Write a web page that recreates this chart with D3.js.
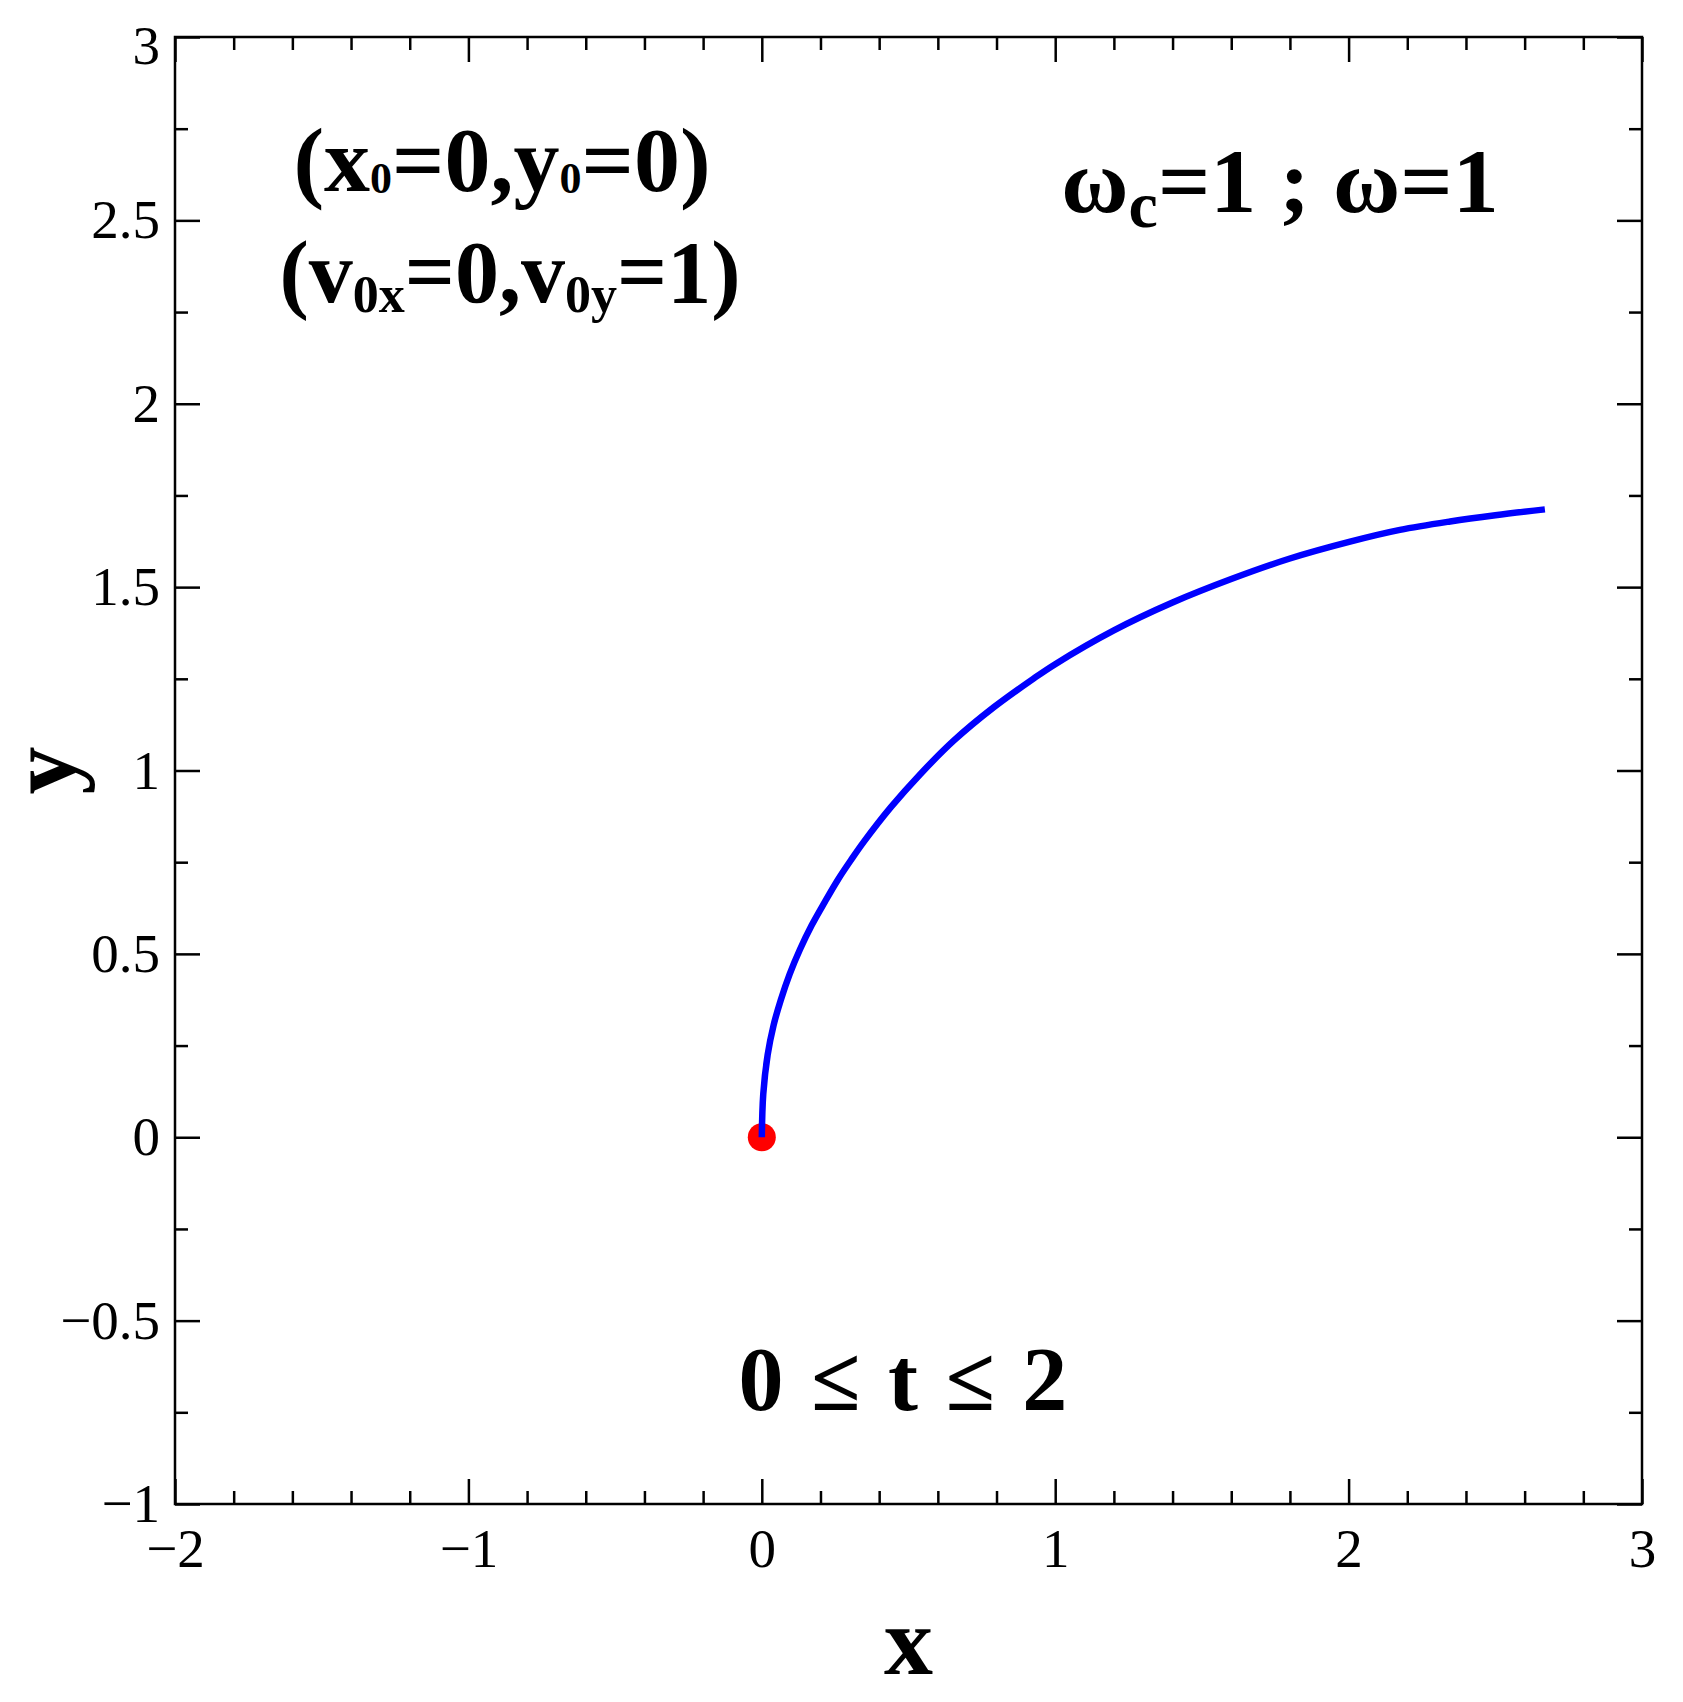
<!DOCTYPE html>
<html>
<head>
<meta charset="utf-8">
<script src="https://cdn.jsdelivr.net/npm/d3@7"></script>
<style>
  body { margin: 0; background: #fff; }
  svg text { font-family: "Liberation Serif", "Times New Roman", serif; }
</style>
</head>
<body>
<svg id="chart" width="1683" height="1702"></svg>
<script>
// Tick values for the axes
var xTicks = [-2, -1, 0, 1, 2, 3];
var yTicks = [-1, -0.5, 0, 0.5, 1, 1.5, 2, 2.5, 3];
var xMinor = [-1.8, -1.6, -1.4, -1.2, -0.8, -0.6, -0.4, -0.2, 0.2, 0.4, 0.6, 0.8,
              1.2, 1.4, 1.6, 1.8, 2.2, 2.4, 2.6, 2.8];
var yMinor = [-0.75, -0.25, 0.25, 0.75, 1.25, 1.75, 2.25, 2.75];

// Trajectory, 0 <= t <= 2
var trajX = [0, 0.005, 0.020, 0.040, 0.065, 0.095, 0.130, 0.170, 0.215, 0.260, 0.305,
             0.350, 0.440, 0.540, 0.655, 0.790, 0.925, 1.0, 1.2, 1.4, 1.6, 1.8,
             2.005, 2.175, 2.346, 2.5, 2.669];
var trajY = [0, 0.118, 0.225, 0.305, 0.375, 0.445, 0.512, 0.578, 0.642, 0.703, 0.757,
             0.808, 0.900, 0.990, 1.082, 1.172, 1.250, 1.290, 1.382, 1.458, 1.522, 1.578,
             1.624, 1.656, 1.679, 1.696, 1.712];
var startPoint = [0, 0];

// plot box in pixels
var plotL = 175, plotT = 37, plotR = 1642, plotB = 1504;

var svg = d3.select("#chart");

var x = d3.scaleLinear().domain([-2, 3]).range([plotL, plotR]);
var y = d3.scaleLinear().domain([-1, 3]).range([plotB, plotT]);

var fmt = d3.format("");

function styleAxis(g, size) {
    g.select(".domain").remove();
    g.selectAll("line").attr("stroke", "#000").attr("stroke-width", 2.5);
    g.selectAll("text").attr("font-size", size).attr("fill", "#000");
}

// bottom axis with labels
svg.append("g")
    .attr("transform", "translate(0," + plotB + ")")
    .call(d3.axisBottom(x).tickValues(xTicks).tickSizeInner(-25).tickSizeOuter(0)
        .tickPadding(24).tickFormat(fmt))
    .call(styleAxis, 55);
svg.append("g")
    .attr("transform", "translate(0," + plotB + ")")
    .call(d3.axisBottom(x).tickValues(xMinor).tickSizeInner(-13).tickSizeOuter(0).tickFormat(""))
    .call(styleAxis, 0);

// left axis with labels
svg.append("g")
    .attr("transform", "translate(" + plotL + ",0)")
    .call(d3.axisLeft(y).tickValues(yTicks).tickSizeInner(-25).tickSizeOuter(0)
        .tickPadding(15).tickFormat(fmt))
    .call(styleAxis, 55)
    .selectAll(".tick text")
    .attr("y", function(d) { return d === 3 ? 9 : 0; }); // top label sits a bit lower
svg.append("g")
    .attr("transform", "translate(" + plotL + ",0)")
    .call(d3.axisLeft(y).tickValues(yMinor).tickSizeInner(-13).tickSizeOuter(0).tickFormat(""))
    .call(styleAxis, 0);

// top and right: ticks only
svg.append("g")
    .attr("transform", "translate(0," + plotT + ")")
    .call(d3.axisTop(x).tickValues(xTicks).tickSizeInner(-25).tickSizeOuter(0).tickFormat(""))
    .call(styleAxis, 0);
svg.append("g")
    .attr("transform", "translate(0," + plotT + ")")
    .call(d3.axisTop(x).tickValues(xMinor).tickSizeInner(-13).tickSizeOuter(0).tickFormat(""))
    .call(styleAxis, 0);
svg.append("g")
    .attr("transform", "translate(" + plotR + ",0)")
    .call(d3.axisRight(y).tickValues(yTicks).tickSizeInner(-25).tickSizeOuter(0).tickFormat(""))
    .call(styleAxis, 0);
svg.append("g")
    .attr("transform", "translate(" + plotR + ",0)")
    .call(d3.axisRight(y).tickValues(yMinor).tickSizeInner(-13).tickSizeOuter(0).tickFormat(""))
    .call(styleAxis, 0);

// frame
svg.append("rect")
    .attr("x", plotL).attr("y", plotT)
    .attr("width", plotR - plotL).attr("height", plotB - plotT)
    .attr("fill", "none").attr("stroke", "#000").attr("stroke-width", 2.5);

// starting point
svg.append("circle")
    .attr("cx", x(startPoint[0]))
    .attr("cy", y(startPoint[1]))
    .attr("r", 14)
    .attr("fill", "#ff0000");

// trajectory
var line = d3.line()
    .x(function(d) { return x(trajX[d]); })
    .y(function(d) { return y(trajY[d]); })
    .curve(d3.curveCatmullRom);

svg.append("path")
    .datum(d3.range(trajX.length))
    .attr("d", line)
    .attr("fill", "none")
    .attr("stroke", "#0000ff")
    .attr("stroke-width", 6.5);

// axis titles
svg.append("text")
    .attr("x", (plotL + plotR) / 2).attr("y", 1674)
    .attr("text-anchor", "middle")
    .attr("font-size", 98).attr("font-weight", "bold")
    .text("x");
svg.append("text")
    .attr("transform", "translate(75," + (plotT + plotB) / 2 + ") rotate(-90)")
    .attr("text-anchor", "middle")
    .attr("font-size", 96).attr("font-weight", "bold")
    .text("y");

// text with subscripts: parts are [string, isSubscript]
function richText(cx, cy, size, subSize, subShift, parts) {
    var t = svg.append("text")
        .attr("x", cx).attr("y", cy)
        .attr("text-anchor", "middle")
        .attr("font-weight", "bold")
        .attr("font-size", size);
    var shift = 0;
    parts.forEach(function(p) {
        var s = p[1] ? subShift : 0;
        t.append("tspan")
            .attr("dy", s - shift)
            .attr("font-size", p[1] ? subSize : size)
            .text(p[0]);
        shift = s;
    });
    return t;
}

richText(502, 191, 92, 44, 2, [["(x", 0], ["0", 1], ["=0,y", 0], ["0", 1], ["=0)", 0]]);
richText(510, 302, 88, 52, 10, [["(v", 0], ["0x", 1], ["=0,v", 0], ["0y", 1], ["=1)", 0]]);
richText(1280, 212, 92, 66, 15, [["\u03c9", 0], ["c", 1], ["=1 ; \u03c9=1", 0]]);
richText(903, 1410, 90, 90, 0, [["0 \u2264 t \u2264 2", 0]])
    .attr("word-spacing", 5);
</script>
</body>
</html>
